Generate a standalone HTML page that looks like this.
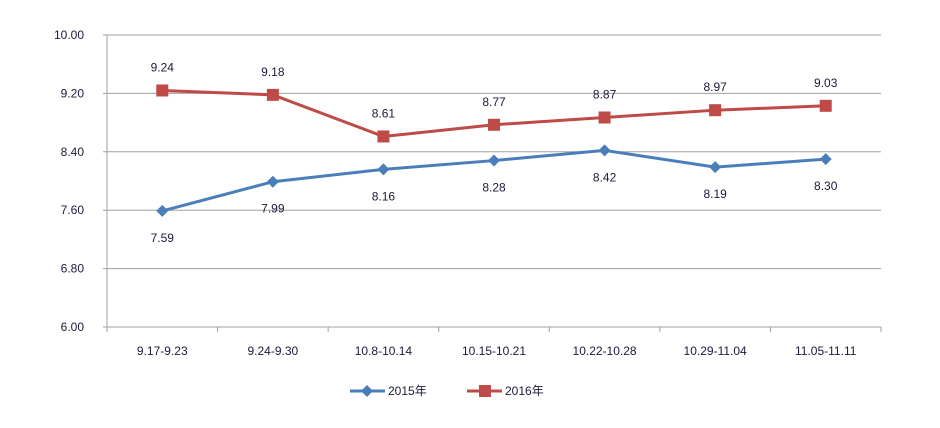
<!DOCTYPE html>
<html><head><meta charset="utf-8"><style>
body{margin:0;background:#fff}
text{font-family:"Liberation Sans","Noto Sans CJK SC",sans-serif;fill:#1a1a3a;font-size:12px}
</style></head><body>
<svg width="940" height="423" id="c"></svg>
<script>
const categories=["9.17-9.23","9.24-9.30","10.8-10.14","10.15-10.21","10.22-10.28","10.29-11.04","11.05-11.11"];
const s2015=[7.59,7.99,8.16,8.28,8.42,8.19,8.30];
const s2016=[9.24,9.18,8.61,8.77,8.87,8.97,9.03];
const yTicks=[6.00,6.80,7.60,8.40,9.20,10.00];
const NS="http://www.w3.org/2000/svg",svg=document.getElementById('c');
const L=107,R=881,T=35,B=327,yMin=6,yMax=10;
const bw=(R-L)/categories.length;
const x=i=>L+bw*(i+0.5), y=v=>B-(v-yMin)/(yMax-yMin)*(B-T);
function el(t,a,p){const e=document.createElementNS(NS,t);for(const k in a)e.setAttribute(k,a[k]);(p||svg).appendChild(e);return e;}
yTicks.forEach(v=>{
 const g=el('line',{x1:103,x2:R,y1:y(v),y2:y(v),stroke:'#a0a0a0','stroke-width':1});
 
 
 const t=el('text',{x:84,y:y(v)+4,'text-anchor':'end'});t.textContent=v.toFixed(2);
 
 
});
const ax=el('line',{x1:L,x2:L,y1:T,y2:B,stroke:'#a0a0a0'});


for(let i=0;i<=categories.length;i++){
 const tk=el('line',{x1:L+bw*i,x2:L+bw*i,y1:B,y2:B+5,stroke:'#a0a0a0'});
 
 
}
categories.forEach((c,i)=>{
 const t=el('text',{x:x(i),y:355,'text-anchor':'middle'});t.textContent=c;
 
 
});
function series(vals,color,shape,name,above){
 const g=el('g',{});
 
 
 el('polyline',{points:vals.map((v,i)=>x(i)+','+y(v)).join(' '),fill:'none',stroke:color,'stroke-width':3},g);
 vals.forEach((v,i)=>{
  let m;
  if(shape==='sq')m=el('rect',{x:x(i)-6,y:y(v)-6,width:12,height:12,fill:color},g);
  else m=el('polygon',{points:`${x(i)},${y(v)-6} ${x(i)+6},${y(v)} ${x(i)},${y(v)+6} ${x(i)-6},${y(v)}`,fill:color},g);
  
  
  const t=el('text',{x:x(i),y:above?y(v)-19:y(v)+31,'text-anchor':'middle'},g);t.textContent=v.toFixed(2);
  
  
 });
}
series(s2015,'#4a7ebb','dia','series-2015',false);
series(s2016,'#be4b48','sq','series-2016',true);
const lg=el('g',{});


el('line',{x1:350,x2:385,y1:391,y2:391,stroke:'#4a7ebb','stroke-width':3},lg);
el('polygon',{points:'367,385 373,391 367,397 361,391',fill:'#4a7ebb'},lg);
let t1=el('text',{x:388,y:395,'font-size':'13'},lg);t1.textContent='2015年';


el('line',{x1:467,x2:502,y1:391,y2:391,stroke:'#be4b48','stroke-width':3},lg);
el('rect',{x:479,y:385,width:12,height:12,fill:'#be4b48'},lg);
let t2=el('text',{x:505,y:395,'font-size':'13'},lg);t2.textContent='2016年';


</script>
</body></html>
